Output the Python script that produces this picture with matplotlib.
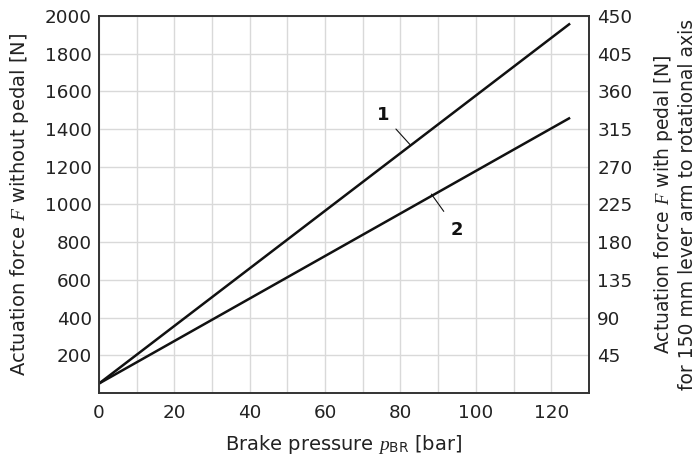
import numpy as np
import matplotlib.pyplot as plt

plt.rcParams["font.family"] = ["DejaVu Sans"]
plt.rcParams["mathtext.fontset"] = "custom"
plt.rcParams["mathtext.it"] = "Liberation Serif:italic"
plt.rcParams["mathtext.rm"] = "DejaVu Sans"

# brake pressure [bar] and actuation force without pedal [N]
pressure = [0, 125]
force_1 = [50, 1960]
force_2 = [50, 1460]

x_ticks = [0, 20, 40, 60, 80, 100, 120]
y_ticks = [200, 400, 600, 800, 1000, 1200, 1400, 1600, 1800, 2000]
y2_ticks = [45, 90, 135, 180, 225, 270, 315, 360, 405, 450]

txt = "#222222"
fs = 13.2
lfs = 14
fig = plt.figure(figsize=(6.96, 4.62), dpi=100)
ax = fig.add_axes([0.1422, 0.1494, 0.704, 0.816])

ax.plot(pressure, force_1, color="#111111", lw=1.8, solid_capstyle="butt")
ax.plot(pressure, force_2, color="#111111", lw=1.8, solid_capstyle="butt")

ax.set_xlim(0, 130)
ax.set_ylim(0, 2000)
ax.set_xticks(np.arange(0, 131, 10))
ax.set_xticklabels([str(v) if v in x_ticks else "" for v in range(0, 131, 10)])
ax.set_yticks(np.arange(0, 2001, 200))
ax.set_yticklabels([str(v) if v in y_ticks else "" for v in range(0, 2001, 200)])
ax.grid(True, color="#d9d9d9", lw=1.0)
ax.set_axisbelow(True)
ax.tick_params(axis="x", length=0, pad=8, labelsize=fs, colors=txt)
ax.tick_params(axis="y", length=0, pad=5, labelsize=fs, colors=txt)
for s in ax.spines.values():
    s.set_color("#333333")
    s.set_linewidth(1.4)

ax.set_xlabel(r"Brake pressure $p_{\mathrm{BR}}$ [bar]", fontsize=lfs,
              color=txt, labelpad=8)
ax.set_ylabel(r"Actuation force $F$ without pedal [N]", fontsize=lfs,
              color=txt, labelpad=10)

ax2 = ax.twinx()
ax2.set_ylim(0, 450)
ax2.set_yticks(y2_ticks)
ax2.tick_params(length=0, pad=6, labelsize=fs, colors=txt)
for s in ax2.spines.values():
    s.set_visible(False)
ax2.set_ylabel("Actuation force $F$ with pedal [N]\n"
               "for 150 mm lever arm to rotational axis",
               fontsize=13.5, color=txt, labelpad=14, linespacing=1.2)

# curve labels with leader lines
ax.annotate("1", xy=(82.6, 1316), xytext=(75.4, 1475), fontsize=13,
            fontweight="bold", color="#111111", ha="center", va="center",
            arrowprops=dict(arrowstyle="-", lw=0.8, color="#111111",
                            shrinkA=4, shrinkB=0))
ax.annotate("2", xy=(88.2, 1055), xytext=(95.0, 865), fontsize=13,
            fontweight="bold", color="#111111", ha="center", va="center",
            arrowprops=dict(arrowstyle="-", lw=0.8, color="#111111",
                            shrinkA=6, shrinkB=0))

fig.savefig("out.png", dpi=100)
